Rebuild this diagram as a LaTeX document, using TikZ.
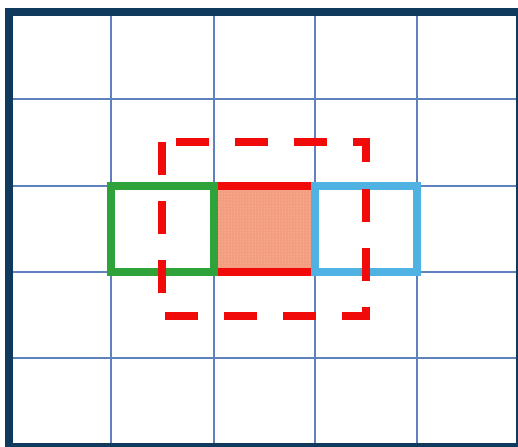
\documentclass[tikz,border=0pt]{standalone}
\usepackage{xcolor}
\usepackage{tikz}
\usetikzlibrary{patterns}
\definecolor{navy}{HTML}{0F3A5E}
\definecolor{gridblue}{HTML}{5F82BE}
\definecolor{green}{HTML}{2FA33A}
\definecolor{skyblue}{HTML}{4FB2E2}
\definecolor{red}{HTML}{F00A0A}
\definecolor{salmon}{HTML}{F39C7E}
\tikzset{
  gridline/.style={draw=gridblue,line width=2.6pt},
  frame/.style={draw=navy,line width=8pt},
  cellbox/.style={line width=8pt,line join=miter},
  window/.style={draw=red,line width=8pt,line join=miter,
    dash pattern=on 33pt off 26pt,dash phase=45pt}
}
\begin{document}
\begin{tikzpicture}[x=1pt,y=-1pt]
\useasboundingbox (0,0) rectangle (518,446);
% grid
\foreach \gx in {111,214,315,417}
  \draw[gridline] (\gx,12.5) -- (\gx,446);
\foreach \gy in {99,186,272,358}
  \draw[gridline] (9,\gy) -- (519,\gy);
\draw[frame] (9,12.5) rectangle (519.8,447);
% cells of the middle row
\coordinate (left-tl) at (111,186);
\coordinate (mid-tl) at (214,186);
\coordinate (mid-br) at (315,272);
\coordinate (right-br) at (417,272);
\fill[salmon,postaction={pattern=dots,pattern color=white!55!salmon}]
  (mid-tl) rectangle (mid-br);
\draw[cellbox,red] (mid-tl) -- (mid-tl -| mid-br)
  (mid-tl |- mid-br) -- (mid-br);
\draw[cellbox,green] (left-tl) rectangle (mid-tl |- mid-br);
\draw[cellbox,skyblue] (mid-tl -| mid-br) rectangle (right-br);
% dashed window
\coordinate (win-tl) at (162,142);
\coordinate (win-br) at (365.5,316);
\draw[window] (win-tl) -- (win-tl -| win-br) -- (win-br)
  -- (win-tl |- win-br) -- cycle;
\end{tikzpicture}
\end{document}
